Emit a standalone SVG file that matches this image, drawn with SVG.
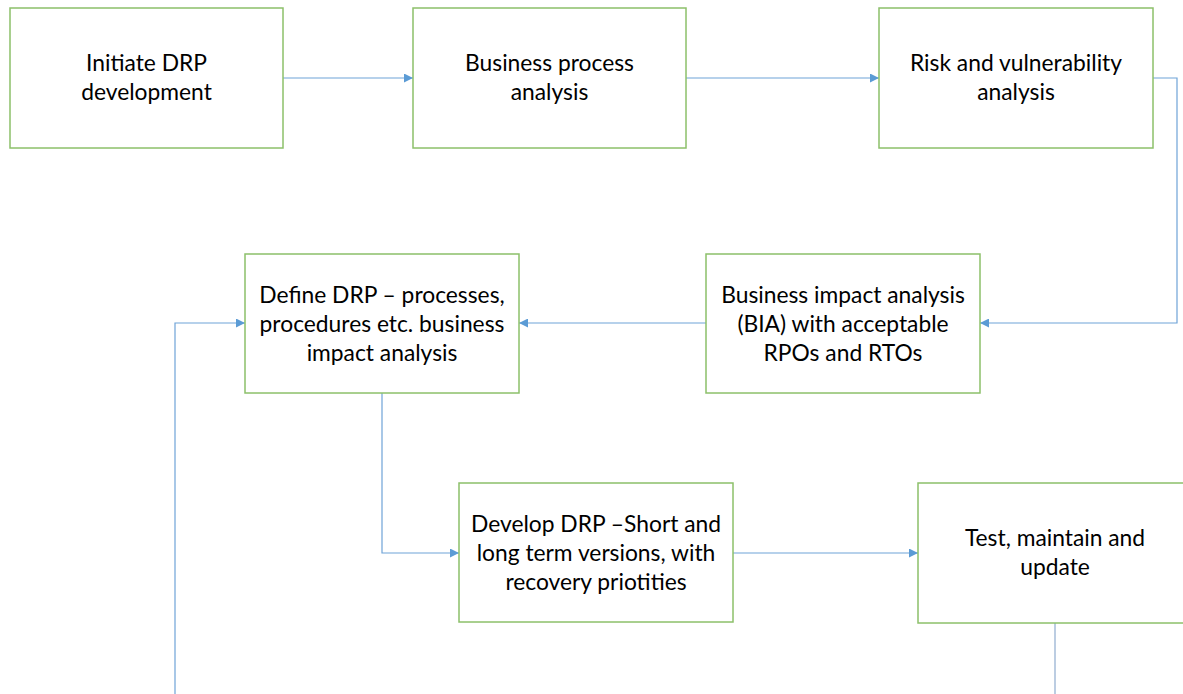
<svg xmlns="http://www.w3.org/2000/svg" width="1183" height="694" viewBox="0 0 1183 694">
  <style>
    .box { fill: #ffffff; stroke: #8cc06a; stroke-width: 1.5; }
    .lbl { font-family: Lato, "Open Sans", "Liberation Sans", sans-serif; font-size: 22.8px; fill: #000000; text-anchor: middle; }
    .wire { fill: none; stroke: #6fa3d8; stroke-width: 1.2; }
    .wire-end { fill: none; stroke: #bccde2; stroke-width: 2; }
  </style>
  <defs>
    <marker id="arrow" viewBox="0 0 10 10" refX="10" refY="5" markerWidth="9" markerHeight="9" markerUnits="userSpaceOnUse" orient="auto">
      <path d="M0,0 L10,5 L0,10 z" fill="#5b9bd5"/>
    </marker>
  </defs>
  <rect width="1183" height="694" fill="#ffffff"/>

  <g id="connectors">
    <path class="wire" d="M283,78 H413" marker-end="url(#arrow)"/>
    <path class="wire" d="M686,78 H879" marker-end="url(#arrow)"/>
    <path class="wire" d="M1153,78 H1177 V323 H980" marker-end="url(#arrow)"/>
    <path class="wire" d="M706,323 H519" marker-end="url(#arrow)"/>
    <path class="wire" d="M382,393 V553 H459" marker-end="url(#arrow)"/>
    <path class="wire" d="M733,553 H918" marker-end="url(#arrow)"/>
    <path class="wire" d="M175,694 V323 H245" marker-end="url(#arrow)"/>
    <path class="wire-end" d="M1055,623 V694"/>
  </g>

  <g id="initiate">
    <rect class="box" x="10" y="8" width="273" height="140"/>
    <text class="lbl" x="146.5" y="71">Initiate DRP</text>
    <text class="lbl" x="146.5" y="100">development</text>
  </g>
  <g id="business-process">
    <rect class="box" x="413" y="8" width="273" height="140"/>
    <text class="lbl" x="549.5" y="71">Business process</text>
    <text class="lbl" x="549.5" y="100">analysis</text>
  </g>
  <g id="risk">
    <rect class="box" x="879" y="8" width="274" height="140"/>
    <text class="lbl" x="1016" y="71">Risk and vulnerability</text>
    <text class="lbl" x="1016" y="100">analysis</text>
  </g>
  <g id="define">
    <rect class="box" x="245" y="254" width="274" height="139"/>
    <text class="lbl" x="382" y="303">Define DRP – processes,</text>
    <text class="lbl" x="382" y="332">procedures etc. business</text>
    <text class="lbl" x="382" y="361">impact analysis</text>
  </g>
  <g id="bia">
    <rect class="box" x="706" y="254" width="274" height="139"/>
    <text class="lbl" x="843" y="303">Business impact analysis</text>
    <text class="lbl" x="843" y="332">(BIA) with acceptable</text>
    <text class="lbl" x="843" y="361">RPOs and RTOs</text>
  </g>
  <g id="develop">
    <rect class="box" x="459" y="483" width="274" height="139"/>
    <text class="lbl" x="596" y="532">Develop DRP –Short and</text>
    <text class="lbl" x="596" y="561">long term versions, with</text>
    <text class="lbl" x="596" y="590">recovery priotities</text>
  </g>
  <g id="test">
    <rect class="box" x="918" y="483" width="274" height="140"/>
    <text class="lbl" x="1055" y="546">Test, maintain and</text>
    <text class="lbl" x="1055" y="575">update</text>
  </g>
</svg>
